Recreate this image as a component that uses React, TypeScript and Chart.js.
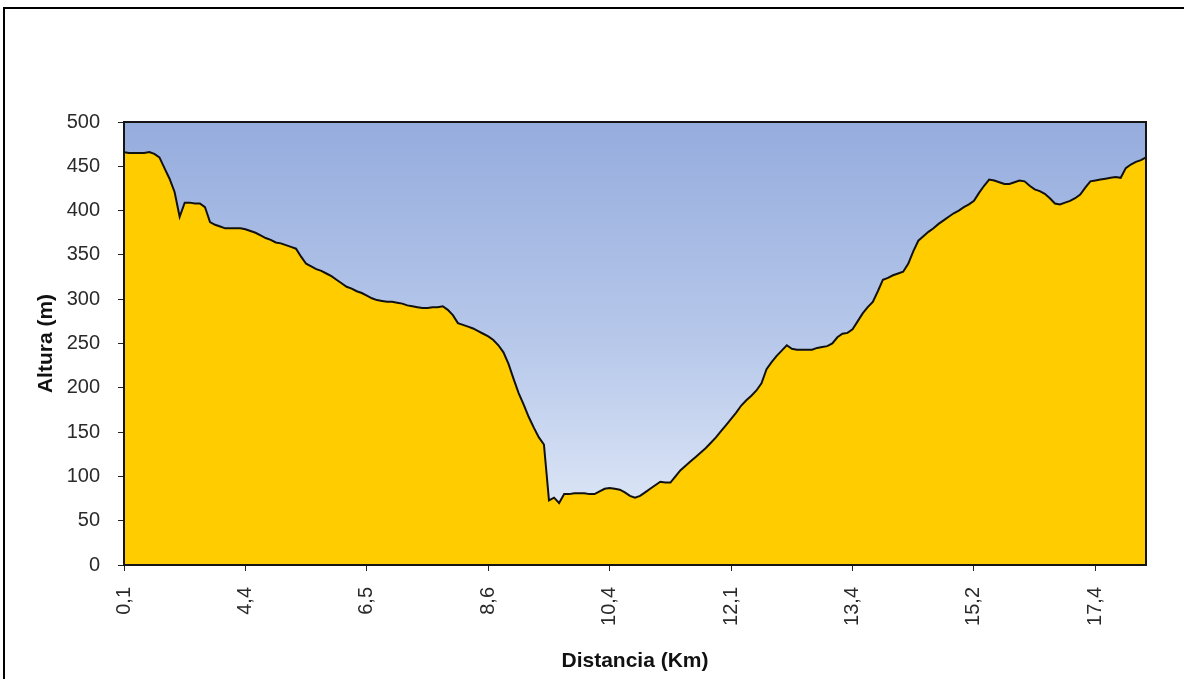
import React, { useEffect, useRef } from "react";
import { Chart, registerables } from "chart.js";

Chart.register(...registerables);

// Tick labels (distance in km) shown every `labelEvery` samples
const tickLabels = ["0,1", "4,4", "6,5", "8,6", "10,4", "12,1", "13,4", "15,2", "17,4"];
const labelEvery = 24;

// Elevation profile (m), one sample per step along the track
const elevation = [
  466, 465, 465, 465, 465, 466, 464, 460, 448, 436,
  421, 393, 409, 409, 408, 408, 404, 387, 384, 382,
  380, 380, 380, 380, 379, 377, 375, 372, 369, 367,
  364, 363, 361, 359, 357, 348, 340, 337, 334, 332,
  329, 326, 322, 318, 314, 312, 309, 307, 304, 301,
  299, 298, 297, 297, 296, 295, 293, 292, 291, 290,
  290, 291, 291, 292, 288, 282, 273, 271, 269, 267,
  264, 261, 258, 254, 248, 240, 227, 210, 194, 181,
  167, 155, 144, 136, 73, 76, 70, 80, 80, 81,
  81, 81, 80, 80, 83, 86, 87, 86, 85, 82,
  78, 76, 78, 82, 86, 90, 94, 93, 93, 100,
  107, 112, 117, 122, 127, 132, 138, 144, 151, 158,
  165, 172, 180, 186, 191, 197, 205, 221, 229, 236,
  242, 248, 244, 243, 243, 243, 243, 245, 246, 247,
  250, 257, 261, 262, 266, 275, 284, 291, 297, 309,
  322, 324, 327, 329, 331, 340, 354, 366, 371, 376,
  380, 385, 389, 393, 397, 400, 404, 407, 411, 420,
  428, 435, 434, 432, 430, 430, 432, 434, 433, 428,
  424, 422, 419, 414, 408, 407, 409, 411, 414, 418,
  426, 433, 434, 435, 436, 437, 438, 437, 448, 452,
  455, 457, 460,
];

const yMin = 0;
const yMax = 500;
const yStep = 50;

const xTitle = "Distancia (Km)";
const yTitle = "Altura (m)";

const FONT = "'Liberation Sans', Arial, Helvetica, sans-serif";

const decorPlugin = {
  id: "decor",
  beforeDatasetsDraw(chart: any) {
    const { ctx, chartArea: a } = chart;
    const g = ctx.createLinearGradient(0, a.top, 0, a.bottom);
    g.addColorStop(0, "#95acdd");
    g.addColorStop(0.5, "#b7c8ea");
    g.addColorStop(0.85, "#d9e3f5");
    g.addColorStop(1, "#e8eef9");
    ctx.save();
    ctx.fillStyle = g;
    ctx.fillRect(a.left, a.top, a.right - a.left, a.bottom - a.top);
    ctx.restore();
  },
  afterDatasetsDraw(chart: any) {
    const { ctx, chartArea: a } = chart;
    ctx.save();
    ctx.strokeStyle = "#151515";
    ctx.lineWidth = 2;
    ctx.strokeRect(a.left, a.top, a.right - a.left, a.bottom - a.top);
    ctx.restore();
  },
  afterDraw(chart: any) {
    const { ctx, width, height } = chart;
    ctx.save();
    ctx.fillStyle = "#000";
    ctx.fillRect(3, 7, 2, height - 7);
    ctx.fillRect(3, 7, width - 3, 2);
    ctx.restore();
  },
};

export default function App() {
  const ref = useRef<HTMLCanvasElement>(null);

  useEffect(() => {
    if (!ref.current) return;
    const points = elevation.map((v, i) => ({ x: i, y: v }));
    const chart = new Chart(ref.current, {
      type: "line",
      data: {
        datasets: [
          {
            data: points,
            borderColor: "#111111",
            borderWidth: 2,
            backgroundColor: "#ffcc00",
            fill: "origin",
            pointRadius: 0,
            tension: 0,
          },
        ],
      },
      options: {
        animation: false,
        responsive: false,
        devicePixelRatio: 1,
        layout: { padding: { left: 30, right: 38, top: 122, bottom: 0 } },
        plugins: { legend: { display: false }, tooltip: { enabled: false } },
        scales: {
          x: {
            type: "linear",
            min: 0,
            max: elevation.length - 1,
            afterFit(scale: any) {
              scale.height = 114;
            },
            grid: {
              display: true,
              drawOnChartArea: false,
              tickLength: 6,
              color: "#222",
              lineWidth: 1,
            },
            border: { display: true, color: "#111", width: 2 },
            ticks: {
              stepSize: labelEvery,
              includeBounds: false,
              autoSkip: false,
              maxRotation: 90,
              minRotation: 90,
              padding: 16,
              color: "#2a2a2a",
              font: { family: FONT, size: 20 },
              callback: (v: any) => {
                const n = Number(v);
                if (n % labelEvery !== 0) return null;
                const lbl = tickLabels[n / labelEvery];
                return lbl === undefined ? null : lbl;
              },
            },
            title: {
              display: true,
              text: xTitle,
              color: "#111",
              font: { family: FONT, size: 21, weight: "bold" },
              padding: { top: 0, bottom: 5 },
            },
          },
          y: {
            min: yMin,
            max: yMax,
            afterFit(scale: any) {
              scale.width = 94;
            },
            grid: {
              display: true,
              drawOnChartArea: false,
              tickLength: 6,
              color: "#222",
              lineWidth: 1,
            },
            border: { display: true, color: "#111", width: 2 },
            ticks: {
              stepSize: yStep,
              padding: 18,
              color: "#2a2a2a",
              font: { family: FONT, size: 20 },
            },
            title: {
              display: true,
              text: yTitle,
              color: "#111",
              font: { family: FONT, size: 21, weight: "bold" },
              padding: { top: 4, bottom: 0 },
            },
          },
        },
      },
      plugins: [decorPlugin],
    });
    return () => chart.destroy();
  }, []);

  return (
    <div style={{ position: "fixed", left: 0, top: 0, width: 1184, height: 679, background: "#fff" }}>
      <canvas ref={ref} width={1184} height={679} style={{ display: "block" }} />
    </div>
  );
}
